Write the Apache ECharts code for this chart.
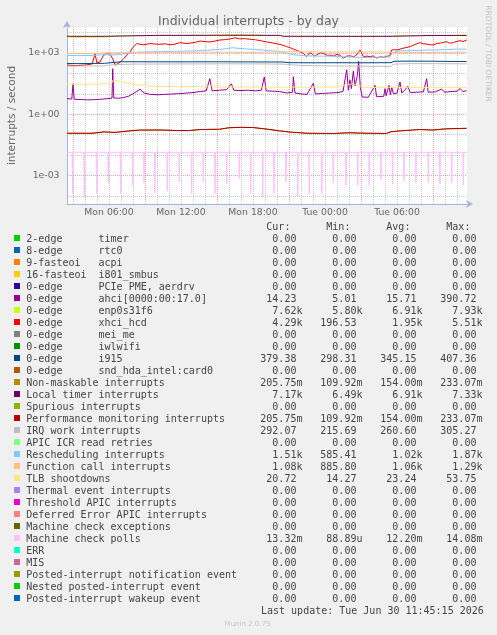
<!DOCTYPE html>
<html>
<head>
<meta charset="utf-8">
<script src="https://cdn.jsdelivr.net/npm/echarts@6.0.0/dist/echarts.min.js"></script>
<style>
html,body{margin:0;padding:0;background:#F0F0F0;}
#chart{width:497px;height:635px;}
</style>
</head>
<body>
<div id="chart"></div>
<script>
// ---------------- DATA ----------------
// time unit: hours since Mon 00:00
const timeStart = 2.5;      // Mon 02:30
const timeEnd = 35.8333;    // Tue 11:50
const gridHours = [3,4,5,6,7,8,9,10,11,12,13,14,15,16,17,18,19,20,21,22,23,24,25,26,27,28,29,30,31,32,33,34,35];
const labelHours = [6, 12, 18, 24, 30];
const labelTexts = ['Mon 06:00', 'Mon 12:00', 'Mon 18:00', 'Tue 00:00', 'Tue 06:00'];
const decadeTicks = [1e-4, 1e-3, 1e-2, 1e-1, 1, 10, 100, 1e3, 1e4];
const decadeLabels = [1e-3, 1, 1e3];

const ahciPts = [[2.5,5.8],[2.9,5.6],[3.0,31],[3.1,5.5],[3.6,5.3],[4.2,5.1],[4.8,5.2],[5.4,5.5],[6.0,5.9],[6.25,6.2],
  [6.31,170],[6.4,6.3],[6.8,6.1],[7.2,6.6],[7.6,7.5],[8.0,10],[8.3,13],[8.6,17],[8.9,11],[9.4,9.5],
  [10.0,9.0],[10.6,9.4],[11.2,9.8],[11.8,10.2],[12.4,10.8],[13.0,11.5],[13.6,13],[14.1,14],[14.4,55],[14.6,14],
  [15.2,15],[15.8,16],[16.2,31],[16.4,15],[17.0,14.5],[17.6,15],[18.2,14],[18.7,15],[18.94,67],[19.1,14],
  [19.6,13.5],[20.2,13],[20.8,11],[21.3,12],[21.36,69],[21.5,11],[22.0,10],[22.5,9.4],[23.03,33],[23.2,9.8],
  [23.8,10.5],[24.4,11],[25.0,11.5],[25.5,13],[25.81,150],[25.95,15],[26.08,48],[26.2,18],[26.36,130],[26.5,25],
  [26.7,80],[26.8,390],[26.95,20],[27.1,7.0],[27.6,6.8],[28.17,26],[28.3,7.2],[28.9,7.6],[29.0,18],[29.1,8.2],
  [29.33,26],[29.45,9],[29.56,22],[29.7,10],[30.0,11],[30.25,38],[30.4,11],[30.72,17],[30.9,24],[31.1,11.5],
  [31.6,12],[32.2,12.5],[32.47,55],[32.6,12],[33.2,12.5],[33.7,17],[34.0,12],[34.5,13],[35.0,13.5],[35.25,18],
  [35.5,13],[35.8,14.2]];

const enpPts = [[2.5,5900],[4,5850],[5.6,5950],[5.7,6600],[7,6900],[9,7000],[10.5,7300],[12,7000],[13,7400],[14,7200],
  [15.5,7700],[16.5,7900],[18,7800],[19,7200],[20.3,7000],[20.5,6300],[23,6200],[25,6400],[27,6300],[29.6,6400],
  [29.8,6900],[32,7000],[34,7200],[35.2,7500],[35.8,7620]];

const xhciPts = [[2.5,255],[3.3,240],[4.1,260],[4.6,290],[4.83,900],[5.0,320],[5.25,360],[5.5,700],[5.8,1000],[6.1,850],
  [6.36,450],[6.5,250],[6.64,206],[6.92,350],[7.2,500],[7.47,770],[7.75,1120],[8.0,1900],[8.31,2860],[8.9,2500],
  [9.4,2900],[9.9,2700],[10.25,2650],[10.7,2800],[11.1,2500],[11.5,2700],[11.9,3200],[12.4,2900],[12.75,3000],[13.2,3300],
  [13.6,3850],[14.0,3600],[14.4,3450],[14.9,3900],[15.25,4300],[15.7,4500],[16.1,4850],[16.5,5500],[16.9,4900],[17.3,5000],
  [17.75,4700],[18.2,4400],[18.6,4000],[19.1,3500],[19.5,3200],[20.0,2800],[20.4,2500],[20.8,2050],[21.1,1800],[21.4,1500],
  [21.7,1300],[21.9,1150],[22.2,950],[22.47,660],[22.7,1000],[22.9,950],[23.1,700],[23.3,800],[23.6,1000],[23.9,950],
  [24.2,750],[24.4,800],[24.7,700],[25.0,860],[25.3,750],[25.53,550],[25.8,700],[26.1,720],[26.4,650],[26.64,800],
  [26.92,1400],[27.2,660],[27.5,700],[27.75,650],[28.0,720],[28.3,560],[28.6,650],[28.9,610],[29.2,700],[29.4,720],
  [29.56,1400],[29.8,1450],[30.0,1400],[30.5,1700],[31.1,2050],[31.5,2600],[31.9,3200],[32.2,2800],[32.5,2700],[32.8,2500],
  [33.0,2450],[33.3,2900],[33.6,3000],[33.9,3300],[34.1,3600],[34.4,3000],[34.7,3200],[35.0,3700],[35.25,4000],[35.5,3600],
  [35.8,4290]];

const i915Pts = [[2.5,305],[3.5,300],[4.5,308],[5.6,310],[5.75,360],[7,372],[9,370],[12,368],[15,370],[18,365],
  [20.5,360],[21,335],[23,330],[25,332],[27,330],[29.5,335],[29.75,392],[31,398],[33,395],[35.8,379]];

const nmiPts = [[2.5,0.118],[4.5,0.118],[5.0,0.125],[5.6,0.138],[6.5,0.13],[7.5,0.15],[8.0,0.16],[8.6,0.17],[10.5,0.17],[11.6,0.16],
  [12.7,0.16],[13.6,0.18],[15.2,0.185],[16.0,0.22],[17.0,0.23],[18.0,0.225],[19.1,0.19],[20.2,0.155],[21.1,0.135],[22.5,0.118],
  [24.7,0.115],[26.0,0.125],[27.5,0.118],[29.1,0.115],[29.5,0.14],[30.3,0.155],[31.9,0.18],[33.0,0.17],[34.1,0.195],[35.8,0.2057]];
const perfPts = nmiPts;

const localTimerPts = [[2.5,6550],[4,6500],[5.6,6520],[5.7,7200],[10,7250],[15,7300],[20.3,7250],[20.5,6550],[25,6500],[29.6,6550],
  [29.7,7150],[33,7200],[35.8,7170]];

const irqWorkPts = [[2.5,225],[4,230],[5.6,232],[6.2,262],[7,275],[8,285],[10,288],[13,290],[16,295],[19,290],
  [20.5,285],[21.3,262],[22,245],[24,235],[26,228],[28,222],[29.5,220],[29.75,285],[31,298],[33,300],[35.8,292]];

const reschedPts = [[2.5,760],[3.5,740],[4.5,750],[5.5,820],[6.5,800],[7.5,930],[8.5,1100],[10,1150],[11.5,1200],[13,1250],
  [14.5,1400],[15.5,1550],[16.3,1800],[17,1650],[18,1500],[19,1350],[20,1200],[20.8,1000],[21.5,800],[22.5,720],
  [23.5,700],[24.5,690],[25.5,650],[26.5,620],[27.5,600],[28.5,620],[29.4,640],[29.6,1000],[30,1250],[31,1300],
  [32,1350],[33,1400],[34,1450],[35,1550],[35.8,1510]];

const funcCallPts = [[2.5,950],[4,940],[5.5,980],[6.5,1020],[8,1060],[10,1080],[12,1070],[14,1090],[16,1080],[18,1070],
  [20,1100],[21.5,1150],[23,1130],[25,1100],[27,1120],[29.4,1100],[29.7,1040],[31,1050],[33,1060],[35.8,1080]];

const tlbPts = [[2.5,30],[3.5,29.5],[5,30],[6.2,31],[6.35,48],[6.6,45],[7,40],[7.5,35],[8,30],[8.6,27],
  [9.5,24],[10.5,23],[12,22.5],[13,23],[14,22],[14.4,25],[15,22],[16,21.5],[17,22],[18,21.8],
  [19,22],[20,21],[21,21.5],[22,21],[23,21],[24,22],[25,21.5],[25.7,27],[26.3,31],[26.8,28],
  [27.1,21],[28,20.5],[29,21],[30,20.5],[31,21],[32,20],[33,21],[34,20.5],[35,21],[35.8,20.7]];

const mcpBase = 0.0138;
const mcpDipHours = [2.975,3.94,4.975,5.94,6.975,7.975,8.92,9.83,10.86,11.86,12.89,13.86,14.83,15.81,16.86,17.81,18.81,
  19.75,20.75,21.73,22.69,23.73,24.69,25.75,26.73,27.69,28.67,29.64,30.58,31.58,32.61,33.58,34.56,35.53];
const mcpDipValues = [1.33e-4,8.9e-5,1.33e-4,4.4e-4,1.33e-4,3.4e-4,4.4e-4,1.42e-4,1.78e-4,4.9e-4,1.33e-4,4.9e-4,1.33e-4,
  4.1e-4,7.2e-4,1.33e-4,8.9e-5,1.33e-4,4.9e-4,9.8e-5,1.33e-4,1.33e-4,4.4e-4,3.4e-4,3.4e-4,3.4e-4,6.4e-4,3.8e-4,5.5e-4,
  4.4e-4,4.9e-4,3.8e-4,4.9e-4,3.4e-4];
const dipHalfWidthHours = 2.5 / 60;

// legend
const legendPrefix = ['2-edge','8-edge','9-fasteoi','16-fasteoi','0-edge','0-edge','0-edge','0-edge','0-edge','0-edge','0-edge','0-edge',
  '','','','','','','','','','','','','','','','','','',''];
const legendLabel = ['timer','rtc0','acpi','i801_smbus','PCIe PME, aerdrv','ahci[0000:00:17.0]','enp0s31f6','xhci_hcd','mei_me','iwlwifi','i915','snd_hda_intel:card0',
  'Non-maskable interrupts','Local timer interrupts','Spurious interrupts','Performance monitoring interrupts','IRQ work interrupts',
  'APIC ICR read retries','Rescheduling interrupts','Function call interrupts','TLB shootdowns','Thermal event interrupts',
  'Threshold APIC interrupts','Deferred Error APIC interrupts','Machine check exceptions','Machine check polls','ERR','MIS',
  'Posted-interrupt notification event','Nested posted-interrupt event','Posted-interrupt wakeup event'];
const legendColors = ['#00CC00','#0066B3','#FF8000','#FFCC00','#330099','#990099','#CCFF00','#FF0000','#808080','#008F00','#00487D','#B35A00',
  '#B38F00','#6B006B','#8FB300','#B30000','#BEBEBE','#80FF80','#80C9FF','#FFC080','#FFE680','#AA80FF','#EE00CC','#FF8080',
  '#666600','#FFBFFF','#00FFCC','#CC6699','#999900','#00CC00','#0066B3'];
const curVals = [0,0,0,0,0,14.23,7620,4290,0,0,379.38,0,0.20575,7170,0,0.20575,292.07,0,1510,1080,20.72,0,0,0,0,0.01332,0,0,0,0,0];
const minVals = [0,0,0,0,0,5.01,5800,196.53,0,0,298.31,0,0.10992,6490,0,0.10992,215.69,0,585.41,885.80,14.27,0,0,0,0,0.00008889,0,0,0,0,0];
const avgVals = [0,0,0,0,0,15.71,6910,1950,0,0,345.15,0,0.154,6910,0,0.154,260.60,0,1020,1060,23.24,0,0,0,0,0.0122,0,0,0,0,0];
const maxVals = [0,0,0,0,0,390.72,7930,5510,0,0,407.36,0,0.23307,7330,0,0.23307,305.27,0,1870,1290,53.75,0,0,0,0,0.01408,0,0,0,0,0];
const lastUpdate = 'Last update: Tue Jun 30 11:45:15 2026';

// ---------------- BUILD ----------------
function mcpSeriesData() {
  const d = [[timeStart, mcpBase]];
  for (let i = 0; i < mcpDipHours.length; i++) {
    const h = mcpDipHours[i];
    d.push([h - dipHalfWidthHours, mcpBase], [h, mcpDipValues[i]], [h + dipHalfWidthHours, mcpBase]);
  }
  d.push([timeEnd, mcpBase]);
  return d;
}
function fmtSI(v) {
  let unit = ' ', m = v;
  if (v !== 0) {
    const e = Math.floor(Math.log10(Math.abs(v)) / 3) * 3;
    const units = {'-6':'u','-3':'m','0':' ','3':'k','6':'M'};
    unit = units[String(e)];
    m = v / Math.pow(10, e);
  }
  m = Math.round(m * 100) / 100;
  return m.toFixed(2).padStart(6, ' ') + unit;
}

const FONT_MONO = '10px "DejaVu Sans Mono"';
const TXT = '#444';
const graphics = [];
const colX = [260.3, 320.3, 380.3, 440.3];
['Cur:','Min:','Avg:','Max:'].forEach((t, k) => {
  graphics.push({type:'text', x: colX[k] + 6.02, y: 227.5, silent:true,
    style:{text:t, font:FONT_MONO, fill:TXT, align:'left', verticalAlign:'middle', textAlign:'left', textVerticalAlign:'middle'}});
});
for (let i = 0; i < legendLabel.length; i++) {
  const yc = 239.5 + 12 * i;
  graphics.push({type:'rect', shape:{x:14, y:yc - 4.5, width:6, height:6}, style:{fill:legendColors[i]}, silent:true});
  const nameText = legendPrefix[i] ? legendPrefix[i].padEnd(12, ' ') + legendLabel[i] : legendLabel[i];
  graphics.push({type:'text', x:26.3, y:yc, silent:true,
    style:{text:nameText, font:FONT_MONO, fill:TXT, align:'left', verticalAlign:'middle', textAlign:'left', textVerticalAlign:'middle'}});
  [curVals, minVals, avgVals, maxVals].forEach((arr, k) => {
    graphics.push({type:'text', x:colX[k], y:yc, silent:true,
      style:{text:fmtSI(arr[i]), font:FONT_MONO, fill:TXT, align:'left', verticalAlign:'middle', textAlign:'left', textVerticalAlign:'middle'}});
  });
}
graphics.push({type:'text', x:261, y:611.7, silent:true,
  style:{text:lastUpdate, font:FONT_MONO, fill:TXT, align:'left', verticalAlign:'middle', textAlign:'left', textVerticalAlign:'middle'}});
graphics.push({type:'text', x:247.5, y:623.7, silent:true,
  style:{text:'Munin 2.0.75', font:'7px "DejaVu Sans"', fill:'#c4c4c4', align:'center', verticalAlign:'middle', textAlign:'center', textVerticalAlign:'middle'}});
graphics.push({type:'text', x:487.5, y:53.5, rotation:-Math.PI/2, silent:true,
  style:{text:'RRDTOOL / TOBI OETIKER', font:'7.5px "DejaVu Sans"', fill:'#c0c0c0', align:'center', verticalAlign:'middle', textAlign:'center', textVerticalAlign:'middle'}});

const GRID_C = 'rgba(143,143,143,0.5)';
const MGRID_C = 'rgba(255,95,95,0.6)';
const AXIS_C = '#A3B3E6';

function line(name, color, data) {
  return {name, type:'line', data, symbol:'none', showSymbol:false, silent:true, animation:false,
    lineStyle:{color, width:1}, itemStyle:{color}};
}
const series = [
  line('ahci', '#990099', ahciPts),
  line('enp0s31f6', '#CCFF00', enpPts),
  line('xhci_hcd', '#FF0000', xhciPts),
  line('i915', '#00487D', i915Pts),
  line('Non-maskable interrupts', '#B38F00', nmiPts),
  line('Local timer interrupts', '#6B006B', localTimerPts),
  line('Performance monitoring interrupts', '#B30000', perfPts),
  line('IRQ work interrupts', '#BEBEBE', irqWorkPts),
  line('Rescheduling interrupts', '#80C9FF', reschedPts),
  line('Function call interrupts', '#FFC080', funcCallPts),
  line('TLB shootdowns', '#FFE680', tlbPts),
  line('Machine check polls', '#FFBFFF', mcpSeriesData())
];

const option = {
  animation: false,
  backgroundColor: '#F0F0F0',
  title: {text:'Individual interrupts - by day', left:'center', top:10,
    textStyle:{fontFamily:'DejaVu Sans', fontSize:12.5, fontWeight:'normal', color:'#666'}},
  grid: {left:67, top:27, width:400, height:177, show:true, backgroundColor:'#FFFFFF', borderWidth:0,
    containLabel:false, outerBoundsMode:'none'},
  xAxis: {
    type:'value', min:timeStart, max:timeEnd,
    axisLine:{show:true, onZero:false, lineStyle:{color:AXIS_C, width:1}, symbol:['none','arrow'], symbolSize:[6,7], symbolOffset:[0,6]},
    axisTick:{show:false, customValues:gridHours},
    axisLabel:{customValues:labelHours, margin:4, color:'#666', fontFamily:'DejaVu Sans', fontSize:9.3,
      formatter:(v) => labelTexts[labelHours.indexOf(Math.round(v))] || ''},
    splitLine:{show:true, lineStyle:{color:[MGRID_C, GRID_C, GRID_C, GRID_C, GRID_C, GRID_C], width:1, type:[1,1]}}
  },
  yAxis: {
    type:'log', logBase:10, min:4.1e-5, max:1.86e4,
    name:'interrupts / second', nameLocation:'middle', nameGap:49, nameRotate:90,
    nameTextStyle:{color:'#666', fontFamily:'DejaVu Sans', fontSize:10.5},
    axisLine:{show:true, onZero:false, lineStyle:{color:AXIS_C, width:1}, symbol:['none','arrow'], symbolSize:[6,7], symbolOffset:[0,6]},
    axisTick:{show:false, customValues:decadeTicks},
    axisLabel:{customValues:decadeLabels, margin:7.5, color:'#666', fontFamily:'DejaVu Sans', fontSize:9.3,
      formatter:(v) => { const e = Math.round(Math.log10(v)); return '1e' + (e < 0 ? '-' : '+') + String(Math.abs(e)).padStart(2, '0'); }},
    splitLine:{show:true, lineStyle:{color:[GRID_C, MGRID_C, GRID_C], width:1, type:[1,1]}}
  },
  graphic: graphics,
  series
};

const chart = echarts.init(document.getElementById('chart'), null, {renderer:'canvas'});
chart.setOption(option);
</script>
</body>
</html>
